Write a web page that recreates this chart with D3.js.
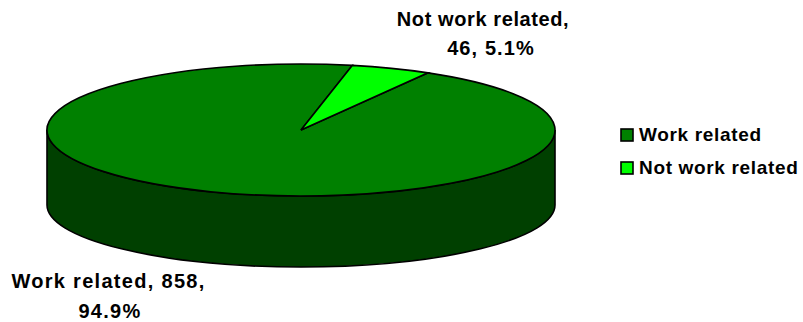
<!DOCTYPE html>
<html><head><meta charset="utf-8">
<script src="https://cdnjs.cloudflare.com/ajax/libs/d3/7.8.5/d3.min.js"></script>
<style>html,body{margin:0;background:#fff}svg{display:block}text{font-family:"Liberation Sans",Arial,sans-serif;font-weight:bold;fill:#000}</style>
</head><body><svg id="c" width="803" height="322"></svg>
<script>
const categories = ["Work related", "Not work related"];
const counts = [858, 46];
const percents = ["94.9%", "5.1%"];
const colors = ["#008000", "#00ff00"];
const sideColor = "#004000";
const firstSliceStartDeg = 30;

const svg = d3.select("#c");
const cx = 301, cy = 130, rx = 254, ry = 66, wallBottomY = 205, wallRy = 62;
const toRad = d => d * Math.PI / 180;

svg.append("path")
  .attr("d", `M${cx - rx},${cy}A${rx},${ry} 0 0 0 ${cx + rx},${cy}L${cx + rx},${wallBottomY}A${rx},${wallRy} 0 0 1 ${cx - rx},${wallBottomY}Z`)
  .attr("fill", sideColor).attr("stroke", "#000").attr("stroke-width", 1.6);

const pie = d3.pie().sort(null).value(d => d)
  .startAngle(toRad(firstSliceStartDeg)).endAngle(toRad(firstSliceStartDeg + 360));
const arc = d3.arc().innerRadius(0).outerRadius(rx);
svg.append("g").attr("transform", `translate(${cx},${cy}) scale(1,${ry / rx})`)
  .selectAll("path").data(pie(counts)).join("path")
  .attr("d", arc).attr("fill", (d, i) => colors[i])
  .attr("stroke", "#000").attr("stroke-width", 1.6).attr("vector-effect", "non-scaling-stroke");

const labelLines = [
  `${categories[1]},`, `${counts[1]}, ${percents[1]}`,
  `${categories[0]}, ${counts[0]},`, percents[0]
];
const labelX = [483, 491, 108.5, 110];
const labelY = [26, 55, 288, 318];
const labelSpacing = [0.6, 1.1, 1.3, 1.3];
labelLines.forEach((t, i) => {
  svg.append("text").attr("x", labelX[i]).attr("y", labelY[i])
    .attr("text-anchor", "middle").style("font-size", "20px")
    .style("letter-spacing", labelSpacing[i] + "px").text(t);
});

const lg = svg.append("g");
categories.forEach((c, i) => {
  const y = 135 + i * 33;
  lg.append("rect").attr("x", 621).attr("y", y - 6).attr("width", 12).attr("height", 12)
    .attr("fill", colors[i]).attr("stroke", "#000").attr("stroke-width", 1.6);
  lg.append("text").attr("x", 639).attr("y", y + 6).style("font-size", "19px")
    .style("letter-spacing", "0.66px").text(c);
});
</script></body></html>
